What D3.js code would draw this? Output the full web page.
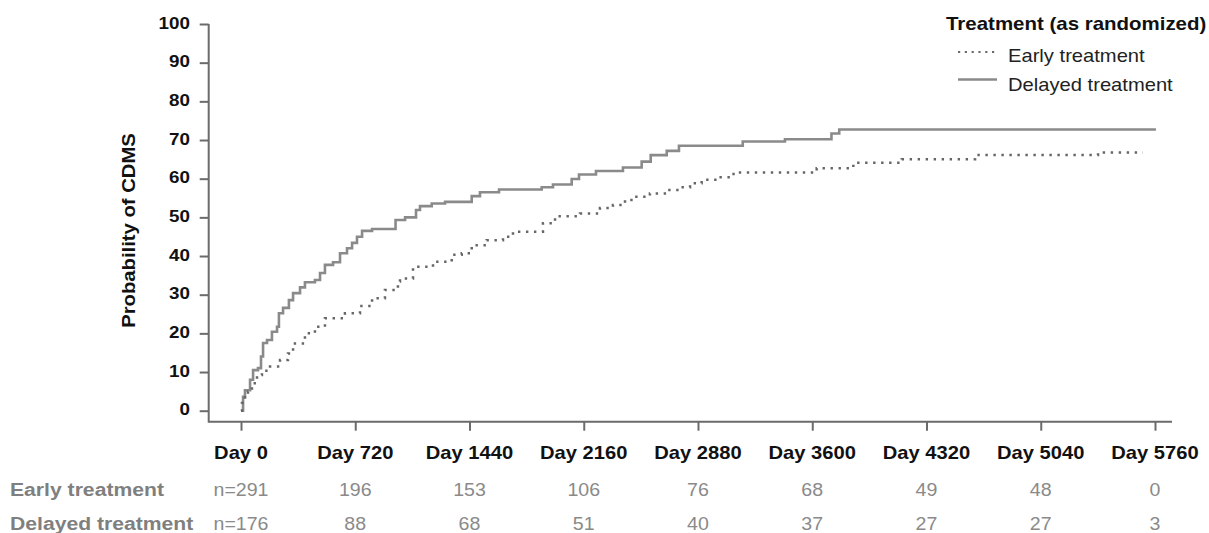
<!DOCTYPE html>
<html>
<head>
<meta charset="utf-8">
<script src="https://cdn.jsdelivr.net/npm/d3@7"></script>
<style>
  html, body { margin: 0; padding: 0; background: #fff; }
  svg { display: block; }
  text { font-family: "Liberation Sans", Arial, sans-serif; }
</style>
</head>
<body>
<svg id="chart" width="1209" height="533"></svg>
<script>
// ---- data ----
const xTickDays = [0, 720, 1440, 2160, 2880, 3600, 4320, 5040, 5760];
const xTickLabels = ["Day 0", "Day 720", "Day 1440", "Day 2160", "Day 2880", "Day 3600", "Day 4320", "Day 5040", "Day 5760"];
const yTicks = [0, 10, 20, 30, 40, 50, 60, 70, 80, 90, 100];

const earlyDays = [0, 6, 25, 44, 69, 101, 132, 183, 246, 296, 328, 403, 466, 529, 655, 750, 826, 907, 989, 1002,
  1084, 1210, 1328, 1391, 1454, 1548, 1651, 1714, 1903, 1979, 2136, 2262, 2344, 2420, 2470, 2577, 2683, 2767, 2830, 2903,
  2998, 3082, 3113, 3628, 3859, 4164, 4626, 5401, 5684];
const earlyProb = [0, 2, 4, 4.9, 7.1, 9.2, 10.3, 11.4, 13.1, 14.8, 17.4, 20, 21.7, 23.9, 25.2, 27.1, 29.1, 31.2, 33.4, 34.2,
  37.2, 38.5, 40.3, 40.7, 42.8, 44.1, 45, 46.3, 48.5, 50.3, 51, 52.4, 53.2, 54.5, 55.3, 56.2, 57.1, 57.8, 58.8, 59.7,
  60.4, 61.2, 61.6, 62.7, 64.1, 65, 66.1, 66.8, 66.8];

const delayedDays = [0, 13, 25, 57, 76, 107, 126, 139, 164, 195, 227, 239, 265, 302, 328, 372, 403, 466, 498, 529,
  580, 624, 668, 700, 731, 763, 826, 974, 1034, 1103, 1128, 1202, 1286, 1454, 1506, 1626, 1895, 1966, 2084, 2130,
  2237, 2407, 2525, 2582, 2683, 2760, 3162, 3428, 3721, 3770, 5766];
const delayedProb = [0, 3.6, 5.3, 8, 10.5, 11, 14, 17.5, 18.3, 20.4, 21.7, 25.2, 26.6, 28.6, 30.4, 31.9, 33.2, 33.8, 35.6, 37.7,
  38.4, 40.7, 42, 43.4, 45, 46.5, 47, 49.3, 50, 51.9, 52.9, 53.6, 54, 55.5, 56.5, 57.2, 57.8, 58.5, 59.9, 61.1,
  62, 62.9, 64.4, 66.1, 67.2, 68.5, 69.6, 70.2, 71.7, 72.7, 72.7];

const seriesNames = ["Early treatment", "Delayed treatment"];
const earlyAtRisk = ["n=291", "196", "153", "106", "76", "68", "49", "48", "0"];
const delayedAtRisk = ["n=176", "88", "68", "51", "40", "37", "27", "27", "3"];
const legendTitle = "Treatment (as randomized)";
const yTitle = "Probability of CDMS";

// ---- drawing ----
const svg = d3.select("#chart");
svg.append("rect").attr("width", 1209).attr("height", 533).attr("fill", "#fff");

const x = d3.scaleLinear().domain([0, 5760]).range([241, 1155]);
const y = d3.scaleLinear().domain([0, 100]).range([410.7, 24]);

const axisColor = "#6b6b6b";
const axisLeftX = 208.7, axisBottomY = 421.7, axisRightX = 1172;

function addText(parent, tx, ty, str, o) {
  return parent.append("text")
    .attr("transform", `translate(${tx},${ty}) rotate(${o.rotate || 0}) scale(${o.sx || 1.1},1)`)
    .attr("text-anchor", o.anchor || "start")
    .attr("font-size", o.size)
    .attr("font-weight", o.weight || "normal")
    .attr("fill", o.fill || "#000")
    .text(str);
}

// y axis ticks via d3 axis
const gy = svg.append("g").attr("transform", `translate(${axisLeftX},0)`)
  .call(d3.axisLeft(y).tickValues(yTicks).tickSize(9).tickSizeOuter(0).tickFormat(""));
gy.select(".domain").remove();
gy.selectAll(".tick line").attr("stroke", axisColor).attr("stroke-width", 2);

// x axis ticks via d3 axis
const gx = svg.append("g").attr("transform", `translate(0,${axisBottomY})`)
  .call(d3.axisBottom(x).tickValues(xTickDays).tickSize(9).tickSizeOuter(0).tickFormat(""));
gx.select(".domain").remove();
gx.selectAll(".tick line").attr("stroke", axisColor).attr("stroke-width", 2);

// axis lines (L frame)
svg.append("path")
  .attr("d", `M${axisLeftX},${y(100)}V${axisBottomY}H${axisRightX}`)
  .attr("fill", "none").attr("stroke", axisColor).attr("stroke-width", 2);

// y tick labels
yTicks.forEach(v => addText(svg, 190, y(v) + 4.5, String(v), { size: 16.8, weight: "bold", anchor: "end", sx: 1.12, fill: "#111" }));

// x tick labels
xTickDays.forEach((d, i) => addText(svg, x(d), 459, xTickLabels[i], { size: 18, weight: "bold", anchor: "middle", sx: 1.12, fill: "#111" }));

// y title
addText(svg, 135, 230.5, yTitle, { size: 18.6, weight: "bold", anchor: "middle", sx: 1.09, rotate: -90, fill: "#111" });

// curves
const line = d3.line().x(d => x(d[0])).y(d => y(d[1])).curve(d3.curveStepAfter);
const early = earlyDays.map((d, i) => [d, earlyProb[i]]);
const delayed = delayedDays.map((d, i) => [d, delayedProb[i]]);

svg.append("path").datum(delayed).attr("d", line)
  .attr("fill", "none").attr("stroke", "#8a8a8a").attr("stroke-width", 2.6);
svg.append("path").datum(early).attr("d", line)
  .attr("fill", "none").attr("stroke", "#666").attr("stroke-width", 2.5)
  .attr("stroke-dasharray", "2.4,5.6");

// legend
const lg = svg.append("g");
addText(lg, 946, 30, legendTitle, { size: 18.6, weight: "bold", sx: 1.1, fill: "#111" });
lg.append("line").attr("x1", 958).attr("x2", 997).attr("y1", 52).attr("y2", 52)
  .attr("stroke", "#6a6a6a").attr("stroke-width", 2.2).attr("stroke-dasharray", "2.2,4.6");
addText(lg, 1008, 61.5, seriesNames[0], { size: 18, sx: 1.12, fill: "#222" });
lg.append("line").attr("x1", 958).attr("x2", 997).attr("y1", 79.5).attr("y2", 79.5)
  .attr("stroke", "#8a8a8a").attr("stroke-width", 2.6);
addText(lg, 1008, 90.5, seriesNames[1], { size: 18, sx: 1.12, fill: "#222" });

// number at risk table
addText(svg, 10, 496, seriesNames[0], { size: 18.4, weight: "bold", sx: 1.15, fill: "#7f7f7f" });
addText(svg, 10, 530, seriesNames[1], { size: 18.4, weight: "bold", sx: 1.15, fill: "#7f7f7f" });
xTickDays.forEach((d, i) => {
  addText(svg, x(d), 496, earlyAtRisk[i], { size: 17.5, anchor: "middle", sx: 1.12, fill: "#8a8a8a" });
  addText(svg, x(d), 530, delayedAtRisk[i], { size: 17.5, anchor: "middle", sx: 1.12, fill: "#8a8a8a" });
});
</script>
</body>
</html>
